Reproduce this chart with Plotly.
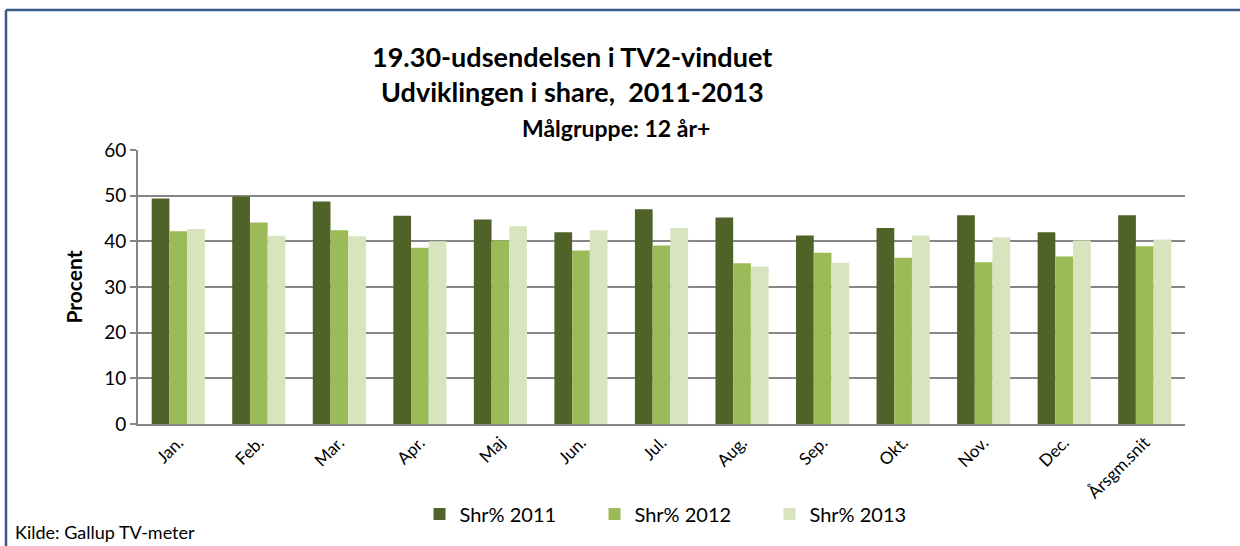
import plotly.graph_objects as go

categories = ["Jan.", "Feb.", "Mar.", "Apr.", "Maj", "Jun.", "Jul.", "Aug.", "Sep.", "Okt.", "Nov.", "Dec.", "Årsgm.snit"]
shr_2011 = [49.4, 49.8, 48.7, 45.6, 44.8, 42.0, 47.0, 45.2, 41.3, 42.9, 45.7, 42.0, 45.7]
shr_2012 = [42.2, 44.1, 42.4, 38.6, 40.2, 38.0, 39.1, 35.2, 37.5, 36.4, 35.4, 36.7, 38.9]
shr_2013 = [42.7, 41.2, 41.1, 40.0, 43.3, 42.4, 42.9, 34.5, 35.3, 41.3, 40.9, 40.2, 40.4]
series_names = ["Shr% 2011", "Shr% 2012", "Shr% 2013"]
colors = ["#4F6228", "#9BBB59", "#D7E4BD"]

FONT = "Lato, Liberation Sans, Arial, sans-serif"

W, H = 1240, 546
L, R, T, B = 138, 55, 150, 122
pw, ph = W - L - R, H - T - B

def px_x(px):
    return (px - L) / pw

def px_y(py):
    return (H - B - py) / ph

fig = go.Figure()
for name, vals, col in zip(series_names, [shr_2011, shr_2012, shr_2013], colors):
    fig.add_trace(go.Bar(x=categories, y=vals, name=name, marker_color=col,
                         marker_line_width=0))

fig.update_layout(
    width=W, height=H,
    margin=dict(l=L, r=R, t=T, b=B, autoexpand=False),
    paper_bgcolor="white", plot_bgcolor="white",
    barmode="group", bargap=0.34, bargroupgap=0,
    font=dict(family=FONT, color="#000000"),
    showlegend=True,
    legend=dict(orientation="h", x=px_x(682), xanchor="center", y=px_y(514), yanchor="middle",
                font=dict(size=20, family=FONT), entrywidth=130, traceorder="normal",
                itemwidth=30),
    xaxis=dict(tickangle=-45, tickfont=dict(size=17, family=FONT), showline=True,
               linecolor="#868686", linewidth=2, ticks="", showgrid=False),
    yaxis=dict(range=[0, 60], dtick=10, tickfont=dict(size=19, family=FONT),
               showgrid=True, gridcolor="#868686", gridwidth=2,
               showline=True, linecolor="#868686", linewidth=2,
               ticks="outside", ticklen=6, tickcolor="#868686", tickwidth=2,
               zeroline=False,
               title=dict(text="<b>Procent</b>", font=dict(size=21, family=FONT), standoff=16)),
)

def note(text, xpx, ypx, size, xanchor="center"):
    fig.add_annotation(text=text, xref="paper", yref="paper", x=px_x(xpx), y=px_y(ypx),
                       xanchor=xanchor, yanchor="middle", showarrow=False,
                       font=dict(size=size, family=FONT))

note("<b>19.30-udsendelsen i TV2-vinduet</b>", 572, 56, 27)
note("<b>Udviklingen i share,  2011-2013</b>", 572, 92, 27)
note("<b>Målgruppe: 12 år+</b>", 616, 128, 23)
note("Kilde: Gallup TV-meter", 13, 532, 18, xanchor="left")

# outer frame (top and left)
fig.add_shape(type="line", xref="paper", yref="paper", x0=px_x(6), x1=px_x(1240),
              y0=px_y(10), y1=px_y(10), line=dict(color="#385D8A", width=2.5))
fig.add_shape(type="line", xref="paper", yref="paper", x0=px_x(6), x1=px_x(6),
              y0=px_y(10), y1=px_y(546), line=dict(color="#385D8A", width=2.5))

fig.write_html("out.html")
